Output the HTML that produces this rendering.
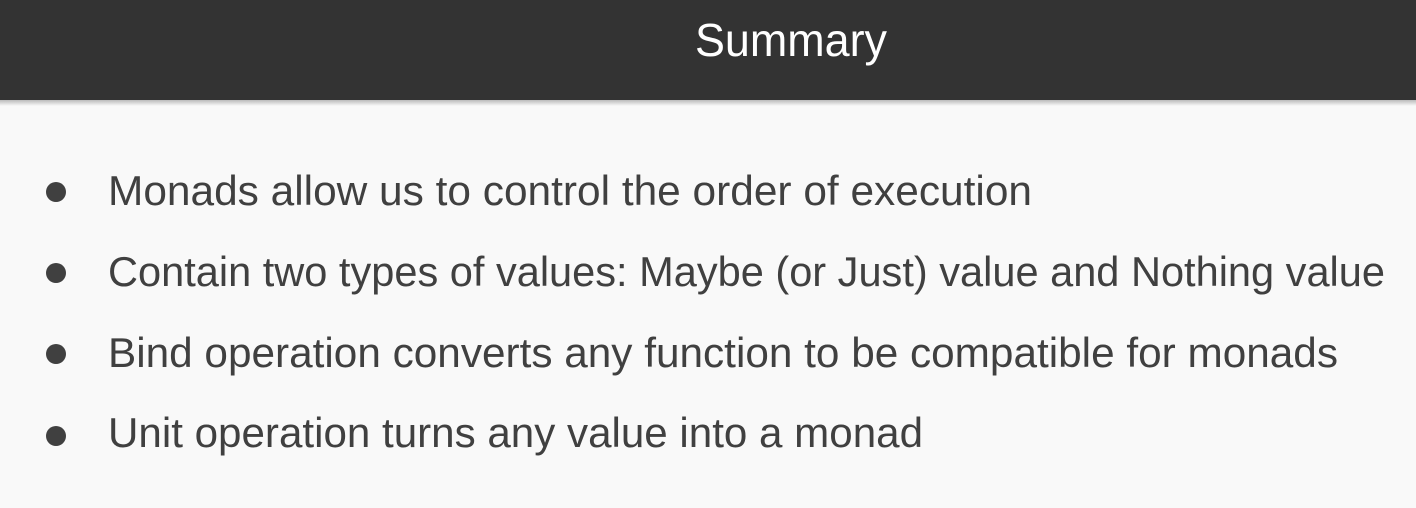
<!DOCTYPE html>
<html><head><meta charset="utf-8"><style>
html,body{margin:0;padding:0;width:1416px;height:508px;overflow:hidden;background:#f9f9f9}
</style></head><body>
<svg width="1416" height="508" xmlns="http://www.w3.org/2000/svg" style="display:block">
<defs><linearGradient id="sh" x1="0" y1="0" x2="0" y2="1"><stop offset="0" stop-color="#000" stop-opacity="0.25"/><stop offset="1" stop-color="#000" stop-opacity="0"/></linearGradient></defs>
<rect x="0" y="0" width="1416" height="508" fill="#f9f9f9"/>
<rect x="0" y="100" width="1416" height="6" fill="url(#sh)"/>
<rect x="0" y="0" width="1416" height="100" fill="#333333"/>
<text x="695" y="56" font-family="Liberation Sans, sans-serif" font-size="46" fill="#ffffff" textLength="192" lengthAdjust="spacingAndGlyphs">Summary</text>
<g fill="#404040" font-family="Liberation Sans, sans-serif" font-size="42">
<circle cx="56" cy="192" r="10"/>
<circle cx="56" cy="273" r="10"/>
<circle cx="56" cy="354" r="10"/>
<circle cx="56" cy="436" r="10"/>
<text x="108" y="205" textLength="924" lengthAdjust="spacingAndGlyphs">Monads allow us to control the order of execution</text>
<text x="108" y="286" textLength="1277" lengthAdjust="spacingAndGlyphs">Contain two types of values: Maybe (or Just) value and Nothing value</text>
<text x="108" y="367" textLength="1230" lengthAdjust="spacingAndGlyphs">Bind operation converts any function to be compatible for monads</text>
<text x="108" y="447" textLength="815" lengthAdjust="spacingAndGlyphs">Unit operation turns any value into a monad</text>
</g>
</svg>
</body></html>
